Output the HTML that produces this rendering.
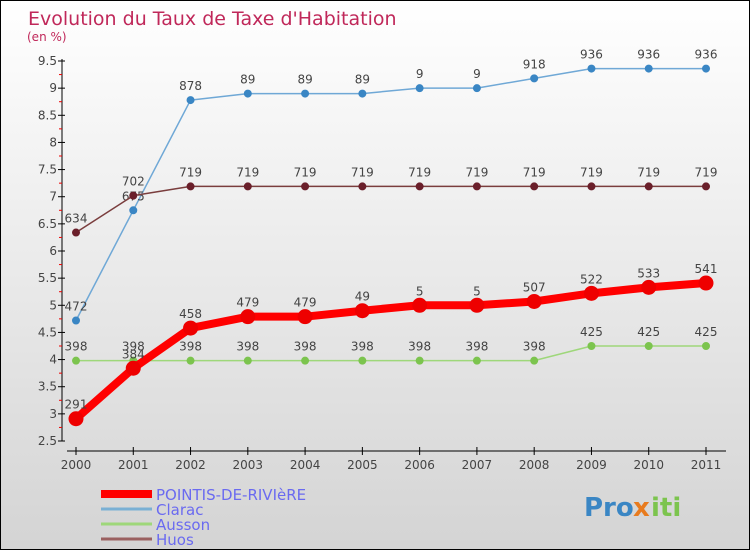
<!DOCTYPE html>
<html><head><meta charset="utf-8"><style>
body{margin:0}
#c{position:relative;width:750px;height:550px;box-sizing:border-box;border:1px solid #000;background:linear-gradient(#fff,#d4d4d4);overflow:hidden;font-family:"DejaVu Sans","Liberation Sans",sans-serif}
</style></head><body>
<div id="c">
<svg id="s" width="750" height="550" style="position:absolute;left:0;top:0"></svg>
</div>
<script>
const years=["2000","2001","2002","2003","2004","2005","2006","2007","2008","2009","2010","2011"];
const pointis=[2.91,3.84,4.58,4.79,4.79,4.9,5,5,5.07,5.22,5.33,5.41];
const clarac=[4.72,6.75,8.78,8.9,8.9,8.9,9,9,9.18,9.36,9.36,9.36];
const ausson=[3.98,3.98,3.98,3.98,3.98,3.98,3.98,3.98,3.98,4.25,4.25,4.25];
const huos=[6.34,7.02,7.19,7.19,7.19,7.19,7.19,7.19,7.19,7.19,7.19,7.19];
const yTicks=[2.5,3,3.5,4,4.5,5,5.5,6,6.5,7,7.5,8,8.5,9,9.5];
const NS="http://www.w3.org/2000/svg",s=document.getElementById('s');
const X=i=>75+i*(630/11), Y=v=>440-(v-2.5)*(380/7);
function el(t,a,txt){const e=document.createElementNS(NS,t);for(const k in a)e.setAttribute(k,a[k]);if(txt!=null)e.textContent=txt;s.appendChild(e);return e;}
let e;
e=el('text',{x:27,y:24,'font-size':19,fill:'#c0285a'},"Evolution du Taux de Taxe d'Habitation");

e=el('text',{x:26,y:40,'font-size':12,fill:'#c0285a'},"(en %)");

el('line',{x1:61,y1:58,x2:61,y2:440,stroke:'#000'});
yTicks.forEach((v,i)=>{const y=Y(v);el('line',{x1:57,y1:y,x2:64,y2:y,stroke:'#000'});
 if(i<yTicks.length-1)el('line',{x1:58,y1:Y(v+0.25),x2:61,y2:Y(v+0.25),stroke:'#e00'});
 e=el('text',{x:56,y:y+4,'text-anchor':'end','font-size':12,fill:'#444'},String(v));
 });
el('line',{x1:66,y1:450,x2:725,y2:450,stroke:'#000'});
years.forEach((yr,i)=>{el('line',{x1:X(i),y1:446,x2:X(i),y2:454,stroke:'#000'});
 e=el('text',{x:X(i),y:468,'text-anchor':'middle','font-size':12,fill:'#444'},yr);
 });
function series(d,col,w,r,name,fc){
 e=el('polyline',{points:d.map((v,i)=>X(i)+','+Y(v)).join(' '),fill:'none',stroke:col,'stroke-width':w,'stroke-linejoin':'round'});
 
 d.forEach((v,i)=>{e=el('circle',{cx:X(i),cy:Y(v),r:r,fill:fc,stroke:fc});
  
  e=el('text',{x:X(i),y:Y(v)-10,'text-anchor':'middle','font-size':12,fill:'#444'},String(v).replace('.',''));
  });
}
series(clarac,'#6fa8d6',1.5,3.5,'clarac','#3a86c4');
series(ausson,'#9ed77a',1.5,3.5,'ausson','#7cc44e');
series(huos,'#7a3d3d',1.5,3.5,'huos','#6a1f2a');
series(pointis,'#f00',8,7,'pointis','#e00');
// fix labels: original shows decimals without dot only in some; keep reference style
const leg=[['POINTIS-DE-RIVIèRE','#f00',8],['Clarac','#7ab0d4',3],['Ausson','#9ed77a',3],['Huos','#9a6060',3]];
leg.forEach((l,i)=>{const y=493+i*15;
 e=el('line',{x1:100,y1:y,x2:151,y2:y,stroke:l[1],'stroke-width':l[2]});
 
 e=el('text',{x:155,y:y+6,'font-size':15,fill:'#6a6af0'},l[0]);
 });
e=el('text',{x:583,y:515,'font-size':26,'font-weight':'bold',fill:'#3a86c4'},'Pro');

el('text',{x:632,y:515,'font-size':26,'font-weight':'bold',fill:'#e87b1e'},'x');
el('text',{x:650,y:515,'font-size':26,'font-weight':'bold',fill:'#7cc44e'},'iti');
</script>
</body></html>
